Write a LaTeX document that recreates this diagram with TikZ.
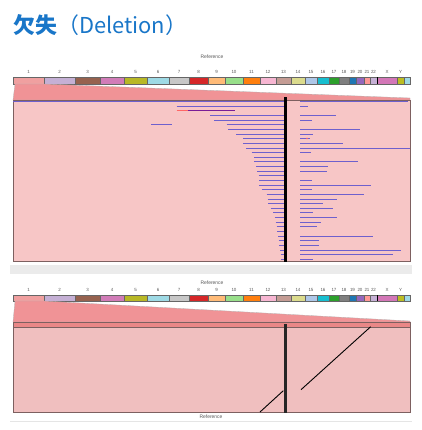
\documentclass[tikz,border=0pt]{standalone}
\usepackage{fontspec}
\setmainfont{Liberation Sans}
\newfontfamily\cjk{Noto Sans CJK JP}
\usepackage{tikz}
\usetikzlibrary{positioning}

\definecolor{titleblue}{RGB}{25,118,200}
\definecolor{panelpink}{HTML}{F7C6C6}
\definecolor{panelpinkb}{HTML}{F0BFBF}
\definecolor{zoompink}{HTML}{F09396}
\definecolor{bandpink}{HTML}{E98787}
\definecolor{frame}{HTML}{7D6060}
\definecolor{readcol}{RGB}{110,96,205}
\definecolor{c1}{HTML}{F0A0A0}
\definecolor{c2}{HTML}{C5B0D5}
\definecolor{c3}{HTML}{96624F}
\definecolor{c4}{HTML}{D17CB8}
\definecolor{c5}{HTML}{B8B826}
\definecolor{c6}{HTML}{9EDAE5}
\definecolor{c7}{HTML}{C7C7C7}
\definecolor{c8}{HTML}{D62728}
\definecolor{c9}{HTML}{FFBB78}
\definecolor{c10}{HTML}{98DF8A}
\definecolor{c11}{HTML}{FF7F0E}
\definecolor{c12}{HTML}{F7B6D2}
\definecolor{c13}{HTML}{C49C94}
\definecolor{c14}{HTML}{DBDB8D}
\definecolor{c15}{HTML}{AEC7E8}
\definecolor{c16}{HTML}{17BECF}
\definecolor{c17}{HTML}{2CA02C}
\definecolor{c18}{HTML}{7F7F7F}
\definecolor{c19}{HTML}{1F77B4}
\definecolor{c20}{HTML}{9467BD}
\definecolor{c21}{HTML}{FF9896}
\definecolor{c22}{HTML}{C5B0D5}
\definecolor{cX}{HTML}{D377B7}
\definecolor{cY}{HTML}{BCBD22}
\definecolor{cM}{HTML}{9EDAE5}

\begin{document}
\begin{tikzpicture}[x=1bp, y=-1bp, semithick]
  \tikzstyle{tinyLabel} = [inner sep=0pt, text=black!65, font={\fontsize{4.5}{5}\selectfont}];
  \tikzstyle{refLabel} = [tinyLabel, font={\fontsize{5}{6}\selectfont}];
  \tikzstyle{chrBox} = [draw=black!60, line width=0.3bp];
  \tikzstyle{panel} = [draw=frame, line width=0.7bp];
  \tikzstyle{readLine} = [draw=readcol, line width=1.1bp];
  \tikzstyle{breakBar} = [line width=3bp];

  \useasboundingbox (0,0) rectangle (422,430);

  \node[anchor=west, inner sep=0pt, text=titleblue, font={\cjk\fontsize{22}{25}\selectfont}] (title) at (13,25)
    {\textbf{欠失}（Deletion）};

  \node[refLabel] (refTop) at (212,57) {Reference};
  \foreach \a/\b/\c/\n in {13/44/c1/1, 44/75/c2/2, 75/100/c3/3, 100/124/c4/4, 124/147/c5/5,
      147/169/c6/6, 169/189/c7/7, 189/208/c8/8, 208/225/c9/9, 225/243/c10/10, 243/260/c11/11,
      260/276/c12/12, 276/291/c13/13, 291/305/c14/14, 305/317/c15/15, 317/329/c16/16,
      329/339/c17/17, 339/349/c18/18, 349/356/c19/19, 356/364/c20/20, 364/370/c21/21,
      370/377/c22/22, 377/397/cX/X, 397/404/cY/Y, 404/410/cM/{}}
  {
    \fill[\c, chrBox] (\a,77) rectangle (\b,84);
    \node[tinyLabel] (top\c) at ({(\a+\b)/2},72) {\n};
  }
  \draw[black, line width=0.8bp] (377,77) -- (377,84);

  \fill[zoompink, draw=black!30, line width=0.3bp] (15,84) -- (44,84) -- (410,98) -- (410,100) -- (13,100) -- cycle;
  \fill[panelpink, panel] (13,100) rectangle (410,261);

  \foreach \i/\s in {0/13, 1/176.7, 3/210, 4/214, 5/226.7, 6/228.3, 7/236, 8/243.3, 9/243.3,
      10/246, 11/251.7, 12/254, 13/254, 14/256, 15/257.3, 16/258.7, 17/259.3, 18/259.3,
      19/261.7, 20/266.7, 21/267.7, 22/268.3, 23/270.7, 24/273.3, 25/274.7, 26/275.7,
      27/276.7, 28/277.3, 29/278, 30/278.7, 31/279.3, 32/280, 33/280.7, 34/281.3}
    \draw[readLine] (\s,{int(101.7+4.635*\i)+0.5}) -- (284,{int(101.7+4.635*\i)+0.5});
  \foreach \i/\e in {0/408, 1/308, 3/336, 4/312, 6/360, 7/313, 8/310, 9/343, 10/410, 11/311,
      13/358, 14/328, 15/327, 17/312, 18/371, 19/312, 20/364, 21/337, 22/323, 23/333,
      24/313, 25/337, 26/321, 27/317, 29/373, 30/319, 31/319, 32/401, 33/393, 34/313}
    \draw[readLine] (300,{int(101.7+4.635*\i)+0.5}) -- (\e,{int(101.7+4.635*\i)+0.5});
  \draw[readLine] (151,124.5) -- (172,124.5);
  \draw[line width=1.1bp, red!60] (176.7,110.5) -- (188,110.5);
  \draw[line width=1.1bp, violet!70!readcol] (188,110.5) -- (235,110.5);
  \fill[red!60] (307,138.5) circle (0.8);

  \draw[breakBar, black] (285,97) -- (285,262);
  \fill[black!8] (10,265) rectangle (412,274);

  \node[refLabel] (refMid) at (212,283) {Reference};
  \foreach \a/\b/\c/\n in {13/44/c1/1, 44/75/c2/2, 75/100/c3/3, 100/124/c4/4, 124/147/c5/5,
      147/169/c6/6, 169/189/c7/7, 189/208/c8/8, 208/225/c9/9, 225/243/c10/10, 243/260/c11/11,
      260/276/c12/12, 276/291/c13/13, 291/305/c14/14, 305/317/c15/15, 317/329/c16/16,
      329/339/c17/17, 339/349/c18/18, 349/356/c19/19, 356/364/c20/20, 364/370/c21/21,
      370/377/c22/22, 377/397/cX/X, 397/404/cY/Y, 404/410/cM/{}}
  {
    \fill[\c, chrBox] (\a,295) rectangle (\b,301);
    \node[tinyLabel] (bot\c) at ({(\a+\b)/2},289.5) {\n};
  }
  \draw[black, line width=0.8bp] (377,295) -- (377,301);

  \fill[zoompink, draw=black!30, line width=0.3bp] (15,301) -- (44,301) -- (410,321) -- (410,322) -- (13,322) -- cycle;
  \fill[bandpink, panel] (13,322) rectangle (410,327);
  \fill[panelpinkb, panel] (13,327) rectangle (410,412);
  \draw[breakBar, black!85] (285,324) -- (285,413);

  \coordinate (segAstart) at (260,412);
  \coordinate (segAend) at (283.3,390.7);
  \coordinate (segBstart) at (301,389.7);
  \coordinate (segBend) at (370.7,326.7);
  \draw[black, line width=0.9bp] (segAstart) -- (segAend);
  \draw[black, line width=0.9bp] (segBstart) -- (segBend);

  \node[refLabel] (refBot) at (211,417) {Reference};
  \draw[black!10, line width=1bp] (10,421) -- (412,421);
\end{tikzpicture}
\end{document}
